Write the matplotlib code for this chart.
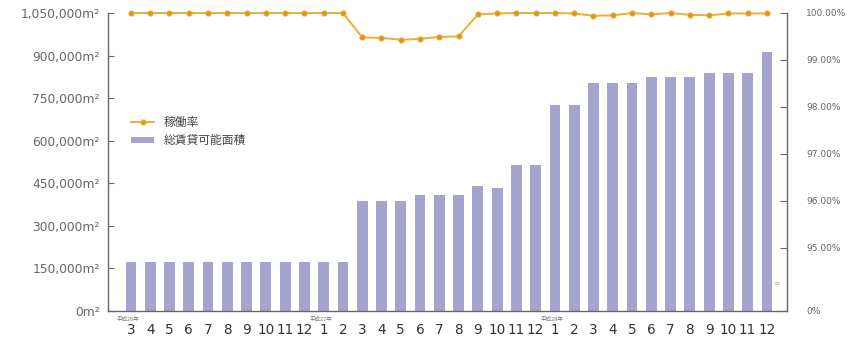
import numpy as np
import matplotlib
matplotlib.use("Agg")
import matplotlib.pyplot as plt
from matplotlib.lines import Line2D
from matplotlib.patches import Patch

plt.rcParams['font.family'] = ['DejaVu Sans', 'Noto Sans CJK JP']

# ---- data -------------------------------------------------------------
months = ['3', '4', '5', '6', '7', '8', '9', '10', '11', '12',
          '1', '2', '3', '4', '5', '6', '7', '8', '9', '10', '11', '12',
          '1', '2', '3', '4', '5', '6', '7', '8', '9', '10', '11', '12']
year_labels = {0: '平成26年', 10: '平成27年', 22: '平成28年'}

leasable_area = [173000] * 12 + [389000, 389000, 389000, 410000, 410000, 410000,
                                 442000, 434000, 513000, 513000,
                                 727000, 727000, 805000, 805000, 805000,
                                 823000, 823000, 823000, 840000, 840000, 840000,
                                 912000]
occupancy = [100.00] * 12 + [99.48, 99.47, 99.43, 99.45, 99.49, 99.50,
                             99.97, 99.99, 100.00, 100.00,
                             100.00, 99.99, 99.94, 99.95, 100.00, 99.97,
                             100.00, 99.96, 99.95, 99.99, 99.99, 99.99]

left_ticks = [0, 150000, 300000, 450000, 600000, 750000, 900000, 1050000]
right_ticks = [0, 95, 96, 97, 98, 99, 100]
right_labels = ['0%', '95.00%', '96.00%', '97.00%', '98.00%', '99.00%', '100.00%']

# ---- styling ----------------------------------------------------------
bar_color = '#a4a4cf'
line_color = '#f0ac34'
marker_color = '#d9961c'
axis_color = '#666666'
text_color = '#666666'

fig = plt.figure(figsize=(8.53, 3.40), dpi=100)
ax = fig.add_axes([0.1266, 0.0853, 0.7960, 0.8765])
x = np.arange(len(months))

ax.bar(x, leasable_area, width=0.56, color=bar_color, zorder=2)
ax.set_xlim(-1.19, 34.04)
ax.set_ylim(0, 1050000)
ax.set_yticks(left_ticks)
ax.set_yticklabels([f'{v:,}m²' for v in left_ticks], fontsize=8.8, color=text_color)
ax.set_xticks(x)
ax.set_xticklabels(months, fontsize=9.8, color='#333333')
ax.tick_params(axis='x', length=0, pad=9)
ax.tick_params(axis='y', direction='in', length=4, color=axis_color, pad=6)

for s in ['top', 'right']:
    ax.spines[s].set_visible(False)
for s in ['left', 'bottom']:
    ax.spines[s].set_color(axis_color)
    ax.spines[s].set_linewidth(1.0)

# year captions under the first month of each year
for i, lbl in year_labels.items():
    ax.text(i - 0.15, -0.018, lbl, transform=ax.get_xaxis_transform(),
            fontsize=4, color='#777777', ha='center', va='top',
            family=['Noto Sans CJK JP', 'DejaVu Sans'])

# right axis: percentages with a break between 0% and 95%
low_frac = 0.2121

def fwd(p):
    p = np.asarray(p, dtype=float)
    return np.where(p >= 95, low_frac + (p - 95) * (1 - low_frac) / 5, p / 95 * low_frac)

def inv(y):
    y = np.asarray(y, dtype=float)
    return np.where(y >= low_frac, 95 + (y - low_frac) * 5 / (1 - low_frac), y / low_frac * 95)

ax2 = ax.twinx()
ax2.set_yscale('function', functions=(fwd, inv))
ax2.set_ylim(0, 100)
ax2.set_yticks(right_ticks)
ax2.set_yticklabels(right_labels, fontsize=6.5, color=text_color)
ax2.tick_params(axis='y', direction='in', length=5, color=axis_color, pad=14)
ax2.yaxis.set_minor_locator(matplotlib.ticker.NullLocator())
for s in ['top', 'left', 'bottom']:
    ax2.spines[s].set_visible(False)
ax2.spines['right'].set_color(axis_color)
ax2.spines['right'].set_linewidth(1.0)

ax2.plot(x, occupancy, color=line_color, lw=1.4, marker='o', ms=3.8,
         markerfacecolor=marker_color, markeredgecolor=line_color,
         markeredgewidth=0.6, clip_on=False, zorder=3)

# break mark on the right axis
ax2.text(0.985, 0.095, '≈', transform=ax2.transAxes, fontsize=6,
         color='#aaaaaa', ha='center', va='center')

handles = [Line2D([0], [0], color=line_color, lw=1.4, marker='o', ms=3.5,
                  markerfacecolor=marker_color, markeredgecolor=line_color),
           Patch(facecolor=bar_color, edgecolor='none')]
leg = ax.legend(handles, ['稼働率', '総賃貸可能面積'], loc='upper left',
                bbox_to_anchor=(0.018, 0.69), frameon=False,
                prop={'family': ['Noto Sans CJK JP', 'DejaVu Sans'], 'size': 8.5},
                handlelength=2.0, handleheight=0.45, handletextpad=0.8,
                labelspacing=0.45, labelcolor='#444444')

fig.savefig('out.png', dpi=100)
